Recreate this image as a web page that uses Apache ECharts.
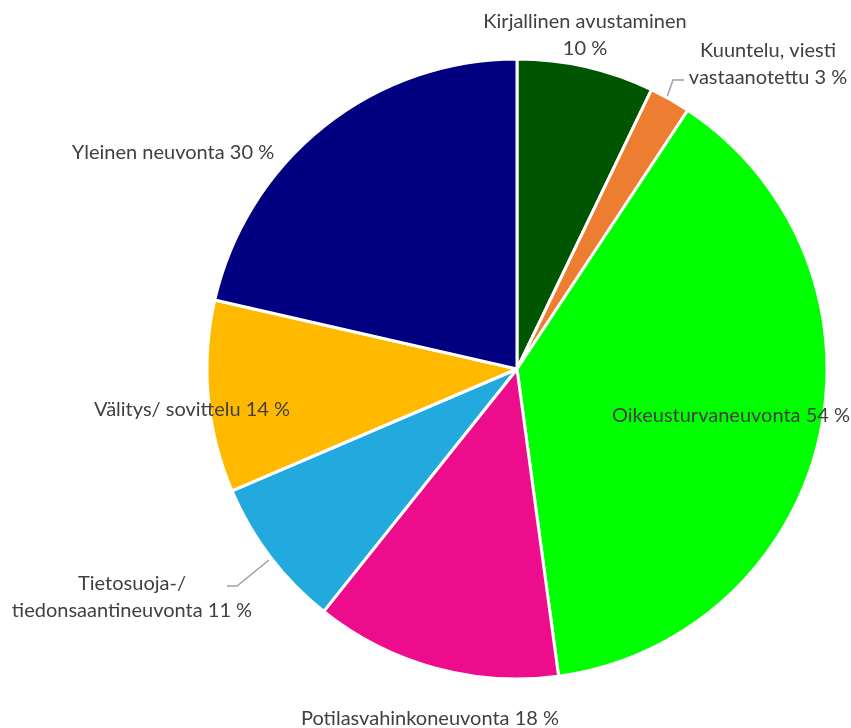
<!DOCTYPE html>
<html><head><meta charset="utf-8">
<script src="https://cdn.jsdelivr.net/npm/echarts@6/dist/echarts.min.js"></script>
<style>html,body{margin:0;padding:0;background:#fff}#c{width:851px;height:728px}</style>
</head><body><div id="c"></div>
<script>
const categories = ["Kirjallinen avustaminen", "Kuuntelu, viesti vastaanotettu", "Oikeusturvaneuvonta", "Potilasvahinkoneuvonta", "Tietosuoja-/ tiedonsaantineuvonta", "Välitys/ sovittelu", "Yleinen neuvonta"];
const labelTexts = ["Kirjallinen avustaminen\n{v} %", "Kuuntelu, viesti\nvastaanotettu {v} %", "Oikeusturvaneuvonta {v} %", "Potilasvahinkoneuvonta {v} %", "Tietosuoja-/\ntiedonsaantineuvonta {v} %", "Välitys/ sovittelu {v} %", "Yleinen neuvonta {v} %"];
const values = [10, 3, 54, 18, 11, 14, 30];
const colors = ["#005500", "#ED7D31", "#00FF00", "#EC0C8C", "#22AADF", "#FFBA00", "#000080"];

// label placement (centre of label block) and leader lines
const labelPos = [[585, 35, 'center'], [768, 64, 'center'], [731, 416, 'center'], [430, 719, 'center'], [132, 597, 'center'], [192, 410, 'center'], [173, 153, 'center']];
const leaders = {1: [[667, 97], [673, 80], [684, 80]], 4: [[269, 560], [237, 586], [227, 586]]};

const chart = echarts.init(document.getElementById('c'));
chart.setOption({
  animation: false,
  series: [{
    type: 'pie',
    center: [517, 369],
    radius: [0, 310],
    startAngle: 90,
    clockwise: true,
    avoidLabelOverlap: false,
    itemStyle: {borderColor: '#fff', borderWidth: 3},
    label: {
      show: true, position: 'outside', color: '#404040',
      fontFamily: 'Lato', fontSize: 20, lineHeight: 27,
      overflow: 'none',
      formatter: p => labelTexts[p.dataIndex].replace('{v}', p.value)
    },
    labelLine: {show: true, lineStyle: {color: '#a0a0a0', width: 1.5}},
    labelLayout: function (p) {
      const i = p.dataIndex;
      const pos = labelPos[i];
      const r = {x: pos[0], y: pos[1], align: pos[2], verticalAlign: 'middle', hideOverlap: false, moveOverlap: null};
      if (leaders[i]) r.labelLinePoints = leaders[i];
      return r;
    },
    data: categories.map((c, i) => ({
      name: c, value: values[i],
      itemStyle: {color: colors[i]},
      labelLine: {show: !!leaders[i]}
    }))
  }]
});
</script></body></html>
